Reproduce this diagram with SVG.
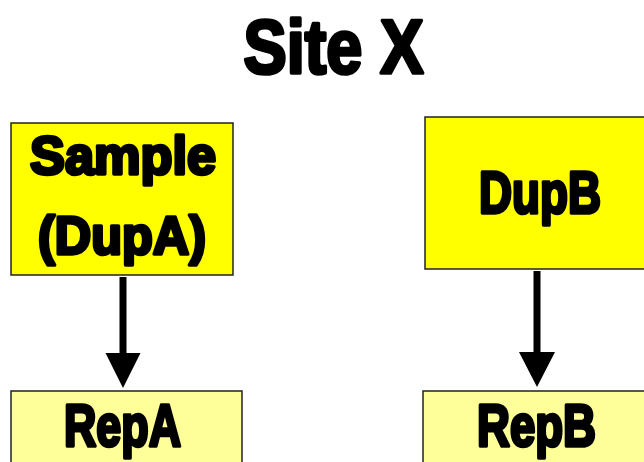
<svg xmlns="http://www.w3.org/2000/svg" width="644" height="462" viewBox="0 0 644 462">
<style>
.t{font-family:"Liberation Sans",Arial,sans-serif;font-weight:bold;fill:#000;stroke:#000;stroke-width:3.6;stroke-linejoin:round;text-anchor:middle}
.top{fill:#FFFF00;stroke:#222;stroke-width:1.5}
.bot{fill:#FFFF99;stroke:#222;stroke-width:1.5}
.shaft{stroke:#000;stroke-width:7;fill:none}
</style>
<rect width="644" height="462" fill="#fff"/>
<text class="t" x="333.5" y="73" font-size="76" textLength="180" lengthAdjust="spacingAndGlyphs">Site X</text>
<g id="sample">
<rect class="top" x="11" y="123" width="222" height="152"/>
<text class="t" x="123" y="174" font-size="54" textLength="186" lengthAdjust="spacingAndGlyphs">Sample</text>
<text class="t" x="122" y="254" font-size="54" textLength="168" lengthAdjust="spacingAndGlyphs">(DupA)</text>
</g>
<g id="dupb">
<rect class="top" x="425" y="117" width="225" height="152"/>
<text class="t" x="540" y="213" font-size="60" textLength="122" lengthAdjust="spacingAndGlyphs">DupB</text>
</g>
<g id="repa">
<rect class="bot" x="11" y="391" width="231" height="80"/>
<text class="t" x="122.5" y="446" font-size="60" textLength="117" lengthAdjust="spacingAndGlyphs">RepA</text>
</g>
<g id="repb">
<rect class="bot" x="423" y="391" width="230" height="80"/>
<text class="t" x="536.5" y="446" font-size="60" textLength="119" lengthAdjust="spacingAndGlyphs">RepB</text>
</g>
<g id="connectors">
<line class="shaft" x1="123" y1="277" x2="123" y2="355"/>
<polygon points="105.5,353 140.5,353 123,388" fill="#000"/>
<line class="shaft" x1="537" y1="271" x2="537" y2="354"/>
<polygon points="519,352 555,352 537,387" fill="#000"/>
</g>
</svg>
